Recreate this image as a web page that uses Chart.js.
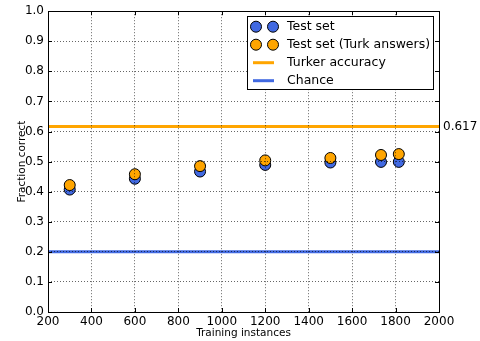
<!DOCTYPE html>
<html><head><meta charset="utf-8">
<script src="https://cdn.jsdelivr.net/npm/chart.js@4/dist/chart.umd.min.js"></script>
<style>html,body{margin:0;padding:0;background:#fff}#wrap{width:480px;height:341px}</style>
</head><body><div id="wrap"><canvas id="c" width="480" height="341"></canvas></div>
<script>
const trainingSizes = [300, 600, 900, 1200, 1500, 1733, 1815];
const testSet = [0.407, 0.443, 0.467, 0.489, 0.497, 0.499, 0.499];
const testSetTurk = [0.422, 0.458, 0.485, 0.504, 0.512, 0.522, 0.525];
const turkerAccuracy = 0.617;
const chance = 0.2;
const xRange = [200, 2000];
const xTicks = [200, 400, 600, 800, 1000, 1200, 1400, 1600, 1800, 2000];
const yTicks = [0.0, 0.1, 0.2, 0.3, 0.4, 0.5, 0.6, 0.7, 0.8, 0.9, 1.0];
const legendLabels = ['Test set', 'Test set (Turk answers)', 'Turker accuracy', 'Chance'];
const axisTitles = ['Training instances', 'Fraction correct'];

const BLUE = '#4169e1', ORANGE = '#ffa500';
const FONT = 'DejaVu Sans';

const framePlugin = {
  id: 'frame',
  afterDraw(chart) {
    const {ctx, chartArea: a, scales: {x, y}} = chart;
    ctx.save();
    ctx.strokeStyle = '#000'; ctx.lineWidth = 1;
    ctx.beginPath();
    xTicks.forEach(v => {
      const px = Math.round(x.getPixelForValue(v)) + 0.5;
      ctx.moveTo(px, a.bottom); ctx.lineTo(px, a.bottom - 4);
      ctx.moveTo(px, a.top); ctx.lineTo(px, a.top + 4);
    });
    yTicks.forEach(v => {
      const py = Math.round(y.getPixelForValue(v)) + 0.5;
      ctx.moveTo(a.left, py); ctx.lineTo(a.left + 4, py);
      ctx.moveTo(a.right, py); ctx.lineTo(a.right - 4, py);
    });
    ctx.stroke();
    ctx.strokeRect(Math.round(a.left) + 0.5, Math.round(a.top) + 0.5, Math.round(a.right - a.left), Math.round(a.bottom - a.top));
    ctx.fillStyle = '#000';
    ctx.font = '12px "' + FONT + '"';
    ctx.textBaseline = 'middle'; ctx.textAlign = 'left';
    ctx.fillText(turkerAccuracy.toFixed(3), a.right + 4, y.getPixelForValue(turkerAccuracy));
    const bx = a.right - 192, by = a.top + 5, bw = 186, bh = 73;
    ctx.fillStyle = '#fff';
    ctx.fillRect(bx, by, bw, bh);
    ctx.strokeRect(Math.round(bx) + 0.5, Math.round(by) + 0.5, bw, bh);
    const rows = [by + 10.5, by + 28.5, by + 46.5, by + 64.5];
    const kinds = [['pt', BLUE], ['pt', ORANGE], ['ln', ORANGE], ['ln', BLUE]];
    rows.forEach((ry, i) => {
      const [k, c] = kinds[i];
      if (k === 'pt') {
        [bx + 9, bx + 26].forEach(cx => {
          ctx.beginPath(); ctx.arc(cx, ry, 5.5, 0, Math.PI * 2);
          ctx.fillStyle = c; ctx.fill(); ctx.strokeStyle = '#000'; ctx.lineWidth = 1; ctx.stroke();
        });
      } else {
        ctx.beginPath(); ctx.moveTo(bx + 6, ry); ctx.lineTo(bx + 27, ry);
        ctx.strokeStyle = c; ctx.lineWidth = 3; ctx.stroke();
      }
      ctx.fillStyle = '#000';
      ctx.font = '12.5px "' + FONT + '"';
      ctx.textBaseline = 'middle'; ctx.textAlign = 'left';
      ctx.fillText(legendLabels[i], bx + 40, ry + 0.5);
    });
    ctx.restore();
  }
};

new Chart(document.getElementById('c'), {
  type: 'scatter',
  data: {
    datasets: [
      { label: legendLabels[0], data: trainingSizes.map((x, i) => ({x, y: testSet[i]})),
        backgroundColor: BLUE, borderColor: '#000', borderWidth: 1, pointRadius: 5.5, order: 3 },
      { label: legendLabels[1], data: trainingSizes.map((x, i) => ({x, y: testSetTurk[i]})),
        backgroundColor: ORANGE, borderColor: '#000', borderWidth: 1, pointRadius: 5.5, order: 2 },
      { type: 'line', label: legendLabels[2], data: xRange.map(x => ({x, y: turkerAccuracy})),
        borderColor: ORANGE, borderWidth: 3, pointRadius: 0, showLine: true, order: 5 },
      { type: 'line', label: legendLabels[3], data: xRange.map(x => ({x, y: chance})),
        borderColor: BLUE, borderWidth: 3, pointRadius: 0, showLine: true, order: 5 }
    ]
  },
  options: {
    responsive: false, devicePixelRatio: 1, animation: false,
    layout: { padding: { top: 8, right: 41, left: 0, bottom: 0 } },
    plugins: { legend: { display: false }, tooltip: { enabled: false } },
    scales: {
      x: {
        type: 'linear', min: xRange[0], max: xRange[1],
        afterBuildTicks(s) { s.ticks = xTicks.map(v => ({value: v})); },
        afterFit(s) { s.height = 29; },
        ticks: { font: { family: FONT, size: 12 }, color: '#000', padding: 3, maxRotation: 0, autoSkip: false, callback: v => String(v) },
        grid: { color: 'rgba(0,0,0,0.6)', lineWidth: 1, drawTicks: false, z: 1 },
        border: { display: false, dash: [1, 2] },
        title: { display: true, text: axisTitles[0], font: { family: FONT, size: 10.5 }, color: '#000', padding: { top: 0, bottom: 1 } }
      },
      y: {
        type: 'linear', min: 0, max: 1,
        afterBuildTicks(s) { s.ticks = yTicks.map(v => ({value: v})); },
        afterFit(s) { s.width = 48; },
        ticks: { font: { family: FONT, size: 12 }, color: '#000', padding: 4, autoSkip: false, callback: v => Number(v).toFixed(1) },
        grid: { color: 'rgba(0,0,0,0.6)', lineWidth: 1, drawTicks: false, z: 1 },
        border: { display: false, dash: [1, 2] },
        title: { display: true, text: axisTitles[1], font: { family: FONT, size: 10.5 }, color: '#000', padding: { top: 16, bottom: 0 } }
      }
    }
  },
  plugins: [framePlugin]
});
</script>
</body></html>
